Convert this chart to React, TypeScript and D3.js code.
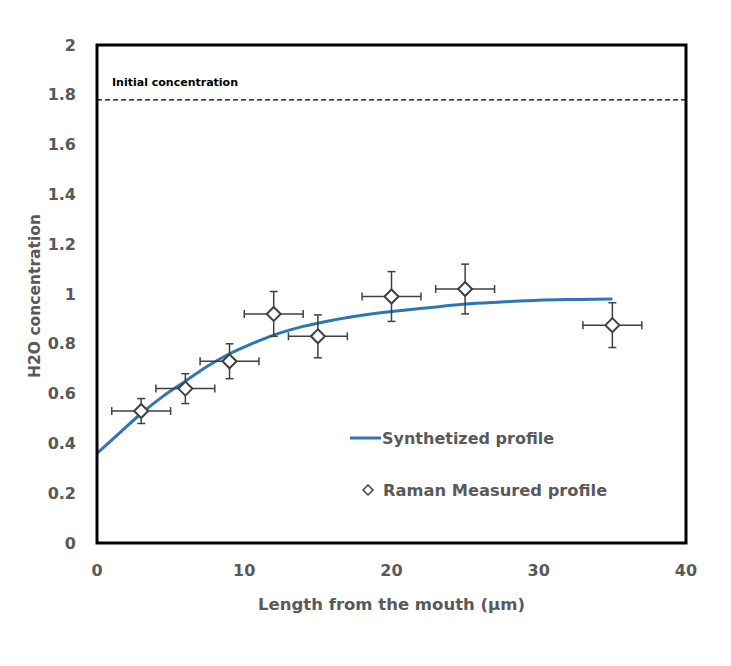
import React, { useEffect, useRef } from 'react';
import * as d3 from 'd3';

// Raman measured points (µm, concentration) with error bars
const measX = [3, 6, 9, 12, 15, 20, 25, 35];
const measY = [0.53, 0.62, 0.73, 0.92, 0.83, 0.99, 1.02, 0.875];
const measXErr = [2, 2, 2, 2, 2, 2, 2, 2];
const measYErr = [0.05, 0.06, 0.07, 0.09, 0.086, 0.1, 0.1, 0.09];

// Synthetized profile
const synthX = [0, 1.5, 3, 4.5, 6, 7.5, 9, 10.5, 12, 14, 16, 18, 20, 22.5, 25, 27.5, 30, 32.5, 35];
const synthY = [0.36, 0.44, 0.52, 0.59, 0.65, 0.71, 0.76, 0.8, 0.835, 0.87, 0.895, 0.915, 0.93, 0.945, 0.96, 0.968, 0.975, 0.978, 0.98];

const initialConcentration = 1.78;
const xTicks = [0, 10, 20, 30, 40];
const yTicks = [0, 0.2, 0.4, 0.6, 0.8, 1, 1.2, 1.4, 1.6, 1.8, 2];

const W = 731;
const H = 666;
const margin = { top: 45, right: 45, bottom: 123, left: 97 };
const FONT = '"DejaVu Sans", sans-serif';
const GRAY = '#595959';
const BLUE = '#2e75b6';
const MARK = '#404040';

export default function App() {
  const svgRef = useRef<SVGSVGElement>(null);

  useEffect(() => {
    if (!svgRef.current) return;
    const svg = d3.select(svgRef.current);
    svg.selectAll('*').remove();

    const w = W - margin.left - margin.right;
    const h = H - margin.top - margin.bottom;

    const x = d3.scaleLinear().domain([0, 40]).range([0, w]);
    const y = d3.scaleLinear().domain([0, 2]).range([h, 0]);

    svg.append('rect').attr('width', W).attr('height', H).attr('fill', 'white');

    const g = svg.append('g').attr('transform', `translate(${margin.left},${margin.top})`);

    // Tick labels
    g.append('g')
      .selectAll('text')
      .data(yTicks)
      .join('text')
      .attr('x', -21)
      .attr('y', d => y(d))
      .attr('dy', '0.35em')
      .attr('text-anchor', 'end')
      .attr('font-family', FONT)
      .attr('font-weight', 'bold')
      .attr('font-size', 16)
      .attr('fill', GRAY)
      .text(d => d3.format('~g')(d));

    g.append('g')
      .selectAll('text')
      .data(xTicks)
      .join('text')
      .attr('x', d => x(d))
      .attr('y', h + 33)
      .attr('text-anchor', 'middle')
      .attr('font-family', FONT)
      .attr('font-weight', 'bold')
      .attr('font-size', 16)
      .attr('fill', GRAY)
      .text(d => d);

    // Axis titles
    g.append('text')
      .attr('x', w / 2)
      .attr('y', h + 67)
      .attr('text-anchor', 'middle')
      .attr('font-family', FONT)
      .attr('font-weight', 'bold')
      .attr('font-size', 16.5)
      .attr('fill', GRAY)
      .text('Length from the mouth (µm)');

    g.append('text')
      .attr('transform', `translate(${-57},${h / 2 + 2}) rotate(-90)`)
      .attr('text-anchor', 'middle')
      .attr('font-family', FONT)
      .attr('font-weight', 'bold')
      .attr('font-size', 15.5)
      .attr('fill', GRAY)
      .text('H2O concentration');

    // Initial concentration
    g.append('line')
      .attr('x1', 0)
      .attr('x2', w)
      .attr('y1', y(initialConcentration))
      .attr('y2', y(initialConcentration))
      .attr('stroke', 'black')
      .attr('stroke-width', 1.2)
      .attr('stroke-dasharray', '5 3');

    g.append('text')
      .attr('x', 15)
      .attr('y', y(initialConcentration) - 14)
      .attr('font-family', FONT)
      .attr('font-weight', 'bold')
      .attr('font-size', 11)
      .attr('fill', 'black')
      .text('Initial concentration');

    // Synthetized curve
    const line = d3.line<number>()
      .x((_, i) => x(synthX[i]))
      .y(d => y(d))
      .curve(d3.curveMonotoneX);

    g.append('path')
      .datum(synthY)
      .attr('fill', 'none')
      .attr('stroke', BLUE)
      .attr('stroke-width', 3)
      .attr('d', line);

    // Error bars
    const cap = 4;
    measX.forEach((mx, i) => {
      const cx = x(mx);
      const cy = y(measY[i]);
      const x0 = x(mx - measXErr[i]);
      const x1 = x(mx + measXErr[i]);
      const y0 = y(measY[i] - measYErr[i]);
      const y1 = y(measY[i] + measYErr[i]);
      const eb = g.append('g').attr('stroke', MARK).attr('stroke-width', 1.5);
      eb.append('line').attr('x1', x0).attr('x2', x1).attr('y1', cy).attr('y2', cy);
      eb.append('line').attr('x1', x0).attr('x2', x0).attr('y1', cy - cap).attr('y2', cy + cap);
      eb.append('line').attr('x1', x1).attr('x2', x1).attr('y1', cy - cap).attr('y2', cy + cap);
      eb.append('line').attr('x1', cx).attr('x2', cx).attr('y1', y0).attr('y2', y1);
      eb.append('line').attr('x1', cx - cap).attr('x2', cx + cap).attr('y1', y0).attr('y2', y0);
      eb.append('line').attr('x1', cx - cap).attr('x2', cx + cap).attr('y1', y1).attr('y2', y1);
    });

    const diamond = (cx: number, cy: number, r: number) =>
      `M${cx},${cy - r}L${cx + r},${cy}L${cx},${cy + r}L${cx - r},${cy}Z`;

    g.append('g')
      .selectAll('path')
      .data(measY)
      .join('path')
      .attr('d', (d, i) => diamond(x(measX[i]), y(d), 7))
      .attr('fill', 'white')
      .attr('stroke', MARK)
      .attr('stroke-width', 2);

    // Legend
    const lg = g.append('g').attr('transform', `translate(${253},${393})`);
    lg.append('line').attr('x1', 0).attr('x2', 31).attr('y1', 0).attr('y2', 0)
      .attr('stroke', BLUE).attr('stroke-width', 3);
    lg.append('text').attr('x', 32).attr('y', 0).attr('dy', '0.35em')
      .attr('font-family', FONT).attr('font-weight', 'bold').attr('font-size', 16)
      .attr('fill', GRAY).text('Synthetized profile');
    lg.append('path').attr('d', diamond(18, 52, 5))
      .attr('fill', 'white').attr('stroke', MARK).attr('stroke-width', 1.5);
    lg.append('text').attr('x', 33).attr('y', 52).attr('dy', '0.35em')
      .attr('font-family', FONT).attr('font-weight', 'bold').attr('font-size', 16.3)
      .attr('fill', GRAY).text('Raman Measured profile');

    // Plot frame
    g.append('rect')
      .attr('x', 0)
      .attr('y', 0)
      .attr('width', w)
      .attr('height', h)
      .attr('fill', 'none')
      .attr('stroke', 'black')
      .attr('stroke-width', 3);
  }, []);

  return (
    <div style={{ position: 'absolute', left: 0, top: 0 }}>
      <svg ref={svgRef} width={W} height={H} />
    </div>
  );
}
